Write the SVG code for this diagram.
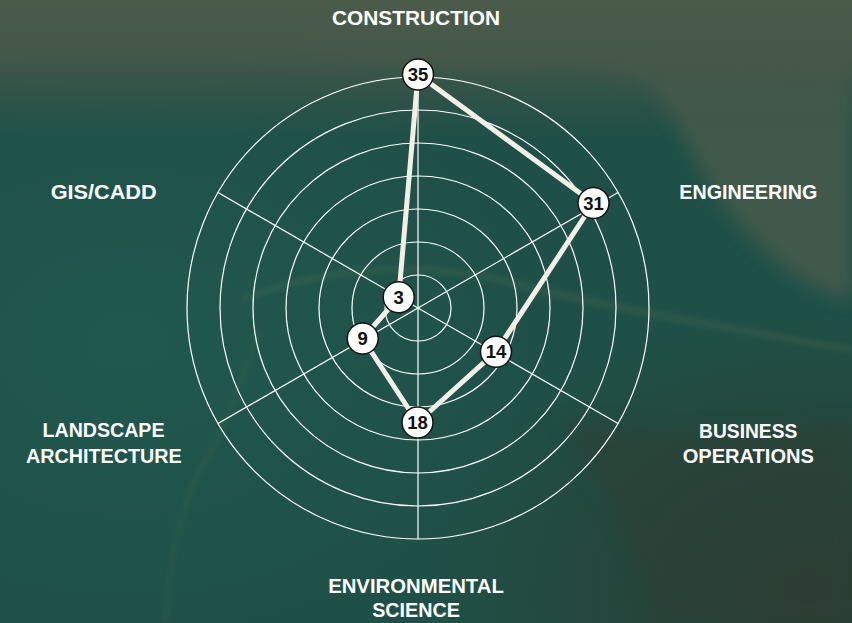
<svg xmlns="http://www.w3.org/2000/svg" width="852" height="623" viewBox="0 0 852 623">
  <defs>
    <linearGradient id="topBand" x1="0" y1="0" x2="0" y2="1">
      <stop offset="0" stop-color="#4b5b4a" stop-opacity="1"/>
      <stop offset="0.09" stop-color="#475849" stop-opacity="0.9"/>
      <stop offset="0.22" stop-color="#3f5449" stop-opacity="0"/>
    </linearGradient>
    <radialGradient id="darkBR" cx="0.95" cy="0.95" r="0.45">
      <stop offset="0" stop-color="#2c3b2f" stop-opacity="0.95"/>
      <stop offset="1" stop-color="#2c3b2f" stop-opacity="0"/>
    </radialGradient>
    <radialGradient id="tealL" cx="0.15" cy="0.55" r="0.5">
      <stop offset="0" stop-color="#205a50" stop-opacity="0.8"/>
      <stop offset="1" stop-color="#205a50" stop-opacity="0"/>
    </radialGradient>
    <filter id="blur8" x="-20%" y="-20%" width="140%" height="140%">
      <feGaussianBlur stdDeviation="9"/>
    </filter>
    <filter id="blur3" x="-20%" y="-20%" width="140%" height="140%">
      <feGaussianBlur stdDeviation="3"/>
    </filter>
  </defs>
  <style>
    .ring { fill: none; stroke: #ffffff; stroke-width: 1.2; }
    .axis { stroke: #ffffff; stroke-width: 1.2; }
    .poly { fill: none; stroke: #f2efe6; stroke-width: 5; stroke-linejoin: round; stroke-linecap: round; }
    .dot circle { fill: #ffffff; stroke: #141414; stroke-width: 1.5; }
    .dot text { font-family: "Liberation Sans", Arial, sans-serif; font-weight: bold; font-size: 18.5px; fill: #111111; text-anchor: middle; }
    .lbl { font-family: "Liberation Sans", Arial, sans-serif; font-weight: bold; font-size: 20px; fill: #ffffff; text-anchor: middle; }
  </style>

  <!-- background -->
  <g id="background">
    <rect width="852" height="623" fill="#1f5047"/>
    <rect width="852" height="623" fill="url(#tealL)"/>
    <path d="M560 60 C 640 50, 760 45, 852 55 L 852 300 C 800 290, 760 250, 720 200 C 690 160, 680 110, 640 80 C 610 65, 580 62, 560 60 Z" fill="#4a5b4b" opacity="0.8" filter="url(#blur8)"/>
    <path d="M300 0 L852 0 L852 70 C 760 55, 640 55, 560 60 C 470 70, 380 60, 300 40 Z" fill="#4a5a48" opacity="0.7" filter="url(#blur8)"/>
    <rect width="852" height="623" fill="url(#topBand)"/>
    <rect width="852" height="623" fill="url(#darkBR)"/>
    <path d="M560 420 C 600 480, 640 560, 660 623 L 852 623 L 852 420 C 780 440, 680 430, 560 420 Z" fill="#2e4034" opacity="0.55" filter="url(#blur8)"/>
    <path d="M240 300 C 330 265, 430 260, 520 285 C 620 310, 740 330, 852 350" fill="none" stroke="#9a9a5a" stroke-width="5" opacity="0.16" filter="url(#blur3)"/>
    <path d="M260 330 C 240 380, 230 420, 200 470 C 175 520, 170 570, 165 623" fill="none" stroke="#8a8a5a" stroke-width="4" opacity="0.13" filter="url(#blur3)"/>
  </g>

  <!-- grid -->
  <g id="grid">
    <circle class="ring" cx="418" cy="308" r="33"/>
    <circle class="ring" cx="418" cy="308" r="66"/>
    <circle class="ring" cx="418" cy="308" r="99"/>
    <circle class="ring" cx="418" cy="308" r="132"/>
    <circle class="ring" cx="418" cy="308" r="165"/>
    <circle class="ring" cx="418" cy="308" r="198"/>
    <circle class="ring" cx="418" cy="308" r="231"/>
    <line class="axis" x1="418" y1="77" x2="418" y2="539"/>
    <line class="axis" x1="217.95" y1="423.5" x2="618.05" y2="192.5"/>
    <line class="axis" x1="217.95" y1="192.5" x2="618.05" y2="423.5"/>
  </g>

  <!-- connectors -->
  <g id="connectors">
    <polygon class="poly" points="418,74.5 593.5,203 496,351.7 417.5,422.5 362.7,338.5 398.7,297.3"/>
  </g>

  <!-- nodes -->
  <g id="node-construction" class="dot">
    <circle cx="418" cy="74.5" r="15.5"/>
    <text x="418" y="81">35</text>
  </g>
  <g id="node-engineering" class="dot">
    <circle cx="593.5" cy="203" r="15.5"/>
    <text x="593.5" y="209.5">31</text>
  </g>
  <g id="node-business" class="dot">
    <circle cx="496" cy="351.7" r="15.5"/>
    <text x="496" y="358.2">14</text>
  </g>
  <g id="node-environmental" class="dot">
    <circle cx="417.5" cy="422.5" r="15.5"/>
    <text x="417.5" y="429">18</text>
  </g>
  <g id="node-landscape" class="dot">
    <circle cx="362.7" cy="338.5" r="15.5"/>
    <text x="362.7" y="345">9</text>
  </g>
  <g id="node-gis" class="dot">
    <circle cx="398.7" cy="297.3" r="15.5"/>
    <text x="398.7" y="303.8">3</text>
  </g>

  <!-- labels -->
  <g id="labels">
    <text class="lbl" x="416" y="25" textLength="168" lengthAdjust="spacingAndGlyphs">CONSTRUCTION</text>
    <text class="lbl" x="748.3" y="199" textLength="138" lengthAdjust="spacingAndGlyphs">ENGINEERING</text>
    <text class="lbl" x="748.2" y="437.7" textLength="98.3" lengthAdjust="spacingAndGlyphs">BUSINESS</text>
    <text class="lbl" x="748.3" y="463.3" textLength="131.3" lengthAdjust="spacingAndGlyphs">OPERATIONS</text>
    <text class="lbl" x="416" y="593.3" textLength="175.7" lengthAdjust="spacingAndGlyphs">ENVIRONMENTAL</text>
    <text class="lbl" x="416" y="617.3" textLength="87.7" lengthAdjust="spacingAndGlyphs">SCIENCE</text>
    <text class="lbl" x="103.5" y="437.3" textLength="122" lengthAdjust="spacingAndGlyphs">LANDSCAPE</text>
    <text class="lbl" x="103.8" y="463.3" textLength="155.7" lengthAdjust="spacingAndGlyphs">ARCHITECTURE</text>
    <text class="lbl" x="103.7" y="199" textLength="106" lengthAdjust="spacingAndGlyphs">GIS/CADD</text>
  </g>
</svg>
